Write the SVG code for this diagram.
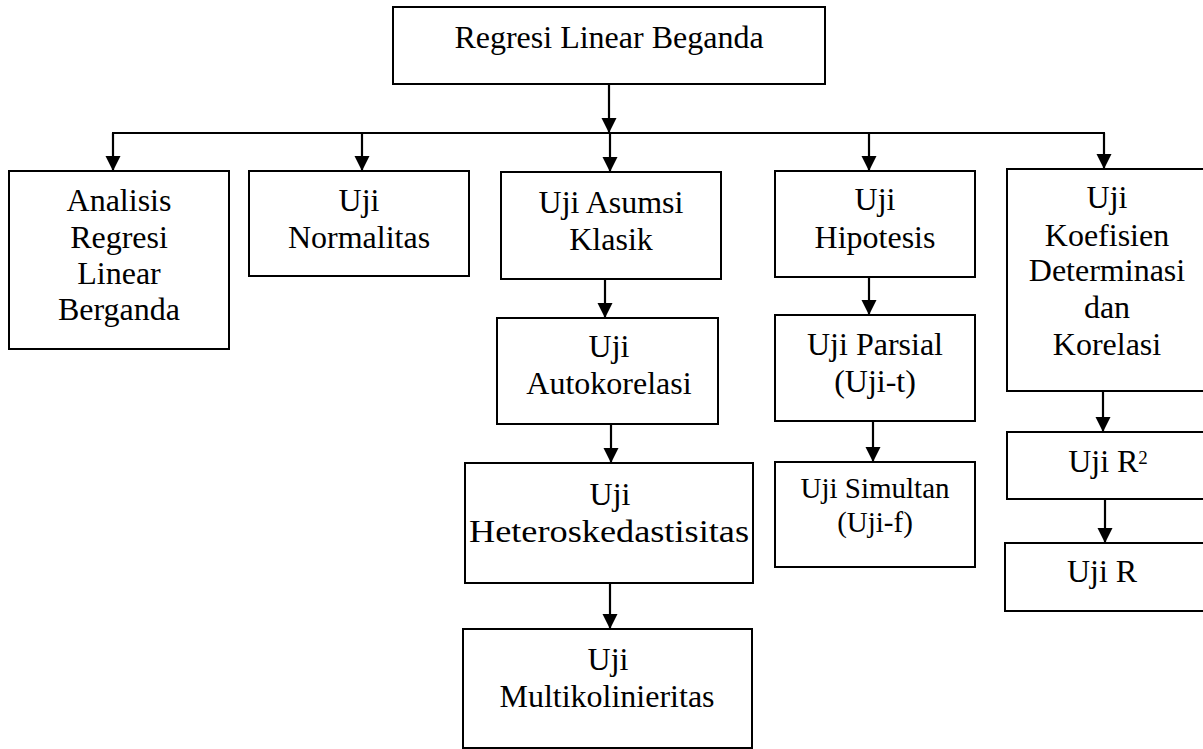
<svg xmlns="http://www.w3.org/2000/svg" width="1203" height="749" viewBox="0 0 1203 749">
<style>
.box{fill:#fff;stroke:#000;stroke-width:2}
.t{font-family:'Liberation Serif',serif;font-size:32px;fill:#000;text-anchor:middle}
.s{font-size:29px}
.c{stroke:#000;stroke-width:2.2;fill:none}
</style>
<defs>
<marker id="ah" markerUnits="userSpaceOnUse" markerWidth="16" markerHeight="16" viewBox="0 0 16 16" refX="15" refY="8" orient="auto">
<path d="M0,0.5 L15,8 L0,15.5 Z" fill="#000"/>
</marker>
</defs>
<rect width="1203" height="749" fill="#fff"/>
<g id="connectors">
<line class="c" x1="609" y1="84" x2="609" y2="133" marker-end="url(#ah)"/>
<line class="c" x1="112" y1="133" x2="1105" y2="133"/>
<line class="c" x1="113" y1="133" x2="113" y2="171" marker-end="url(#ah)"/>
<line class="c" x1="362" y1="133" x2="362" y2="171" marker-end="url(#ah)"/>
<line class="c" x1="610" y1="133" x2="610" y2="172" marker-end="url(#ah)"/>
<line class="c" x1="869" y1="133" x2="869" y2="171" marker-end="url(#ah)"/>
<line class="c" x1="1104" y1="133" x2="1104" y2="169" marker-end="url(#ah)"/>
<line class="c" x1="605" y1="279" x2="605" y2="318" marker-end="url(#ah)"/>
<line class="c" x1="611" y1="424" x2="611" y2="463" marker-end="url(#ah)"/>
<line class="c" x1="610" y1="583" x2="610" y2="629" marker-end="url(#ah)"/>
<line class="c" x1="869" y1="277" x2="869" y2="315" marker-end="url(#ah)"/>
<line class="c" x1="873" y1="421" x2="873" y2="462" marker-end="url(#ah)"/>
<line class="c" x1="1103" y1="391" x2="1103" y2="432" marker-end="url(#ah)"/>
<line class="c" x1="1105" y1="499" x2="1105" y2="543" marker-end="url(#ah)"/>
</g>
<g id="n-top">
<rect class="box" x="393" y="7" width="432" height="77"/>
<text class="t" x="609" y="48">Regresi Linear Beganda</text>
</g>
<g id="n-analisis">
<rect class="box" x="9" y="171" width="220" height="178"/>
<text class="t" x="119" y="211">Analisis</text>
<text class="t" x="119" y="247.5">Regresi</text>
<text class="t" x="119" y="283.5">Linear</text>
<text class="t" x="119" y="320">Berganda</text>
</g>
<g id="n-normalitas">
<rect class="box" x="249" y="171" width="220" height="105"/>
<text class="t" x="359" y="211">Uji</text>
<text class="t" x="359" y="247.5">Normalitas</text>
</g>
<g id="n-asumsi">
<rect class="box" x="501" y="172" width="220" height="107"/>
<text class="t" x="611" y="213">Uji Asumsi</text>
<text class="t" x="611" y="250">Klasik</text>
</g>
<g id="n-autokorelasi">
<rect class="box" x="497" y="318" width="221" height="106"/>
<text class="t" x="609" y="357">Uji</text>
<text class="t" x="609" y="394">Autokorelasi</text>
</g>
<g id="n-hetero">
<rect class="box" x="465" y="463" width="288" height="120"/>
<text class="t" x="610" y="505">Uji</text>
<text class="t" x="609" y="542" textLength="280" lengthAdjust="spacingAndGlyphs">Heteroskedastisitas</text>
</g>
<g id="n-multi">
<rect class="box" x="463" y="629" width="289" height="119"/>
<text class="t" x="608" y="670">Uji</text>
<text class="t" x="607" y="707">Multikolinieritas</text>
</g>
<g id="n-hipotesis">
<rect class="box" x="775" y="171" width="200" height="106"/>
<text class="t" x="875" y="210">Uji</text>
<text class="t" x="875" y="248">Hipotesis</text>
</g>
<g id="n-parsial">
<rect class="box" x="775" y="315" width="200" height="106"/>
<text class="t" x="875" y="355">Uji Parsial</text>
<text class="t" x="875" y="392">(Uji-t)</text>
</g>
<g id="n-simultan">
<rect class="box" x="775" y="462" width="200" height="105"/>
<text class="t s" x="875" y="498">Uji Simultan</text>
<text class="t s" x="875" y="532">(Uji-f)</text>
</g>
<g id="n-koefisien">
<rect class="box" x="1007" y="169" width="202" height="222"/>
<text class="t" x="1107" y="208">Uji</text>
<text class="t" x="1107" y="246">Koefisien</text>
<text class="t" x="1107" y="281">Determinasi</text>
<text class="t" x="1107" y="318">dan</text>
<text class="t" x="1107" y="355">Korelasi</text>
</g>
<g id="n-r2">
<rect class="box" x="1007" y="432" width="202" height="67"/>
<text class="t" x="1108" y="472">Uji R<tspan font-size="19" dy="-8">2</tspan></text>
</g>
<g id="n-r">
<rect class="box" x="1005" y="543" width="204" height="68"/>
<text class="t" x="1102" y="582">Uji R</text>
</g>
</svg>
